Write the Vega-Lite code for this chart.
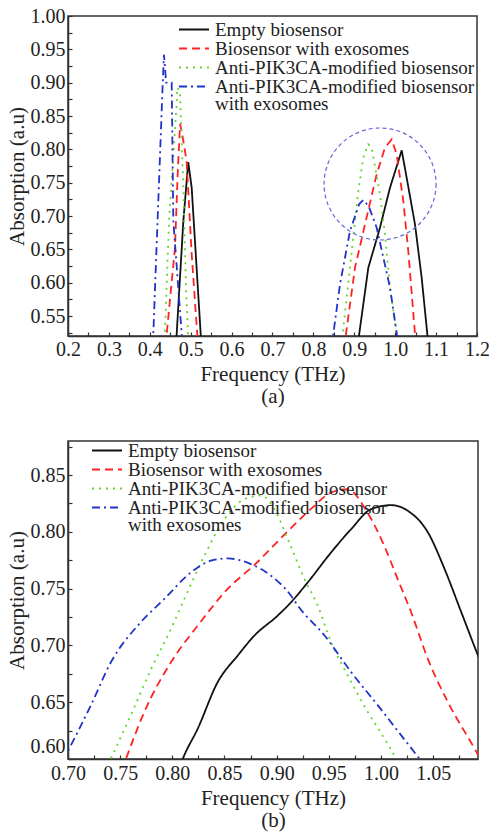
{
  "$schema": "https://vega.github.io/schema/vega-lite/v6.json",
  "padding": {"left": 5, "top": 5, "right": 5, "bottom": 5},
  "spacing": 28,
  "background": "white",
  "config": {
    "view": {"stroke": "#333333", "strokeWidth": 1.5},
    "axis": {
      "labelFont": "Liberation Serif", "labelFontSize": 20, "labelColor": "#222222",
      "titleFont": "Liberation Serif", "titleFontSize": 21, "titleFontWeight": "normal", "titleColor": "#222222",
      "domainColor": "#333333", "domainWidth": 1.5, "tickColor": "#333333", "tickWidth": 1.2,
      "grid": false, "labelOverlap": false, "labelFlush": false, "tickSize": -4, "labelPadding": 7
    },
    "legend": {
      "labelFont": "Liberation Serif", "labelFontSize": 19, "labelColor": "#222222",
      "symbolType": "stroke", "symbolSize": 900, "symbolStrokeWidth": 2, "labelLimit": 400,
      "labelOffset": 5, "rowPadding": -3.5, "padding": 0, "clipHeight": 17
    }
  },
  "datasets": {
    "a": [
      {"s": "Empty biosensor", "f": 0.2, "v": 0.3},
      {"s": "Empty biosensor", "f": 0.462, "v": 0.5},
      {"s": "Empty biosensor", "f": 0.4657, "v": 0.523},
      {"s": "Empty biosensor", "f": 0.482, "v": 0.6925},
      {"s": "Empty biosensor", "f": 0.494, "v": 0.781},
      {"s": "Empty biosensor", "f": 0.5024, "v": 0.7425},
      {"s": "Empty biosensor", "f": 0.5244, "v": 0.523},
      {"s": "Empty biosensor", "f": 0.526, "v": 0.5},
      {"s": "Empty biosensor", "f": 0.7, "v": 0.3},
      {"s": "Empty biosensor", "f": 0.909, "v": 0.5},
      {"s": "Empty biosensor", "f": 0.912, "v": 0.523},
      {"s": "Empty biosensor", "f": 0.9343, "v": 0.6225},
      {"s": "Empty biosensor", "f": 0.9628, "v": 0.6825},
      {"s": "Empty biosensor", "f": 0.9873, "v": 0.7425},
      {"s": "Empty biosensor", "f": 1.0159, "v": 0.7985},
      {"s": "Empty biosensor", "f": 1.028, "v": 0.7575},
      {"s": "Empty biosensor", "f": 1.0484, "v": 0.6875},
      {"s": "Empty biosensor", "f": 1.0647, "v": 0.6075},
      {"s": "Empty biosensor", "f": 1.0785, "v": 0.523},
      {"s": "Empty biosensor", "f": 1.081, "v": 0.5},
      {"s": "Empty biosensor", "f": 1.2, "v": 0.3},
      {"s": "Biosensor with exosomes", "f": 0.2, "v": 0.3},
      {"s": "Biosensor with exosomes", "f": 0.439, "v": 0.5},
      {"s": "Biosensor with exosomes", "f": 0.4413, "v": 0.523},
      {"s": "Biosensor with exosomes", "f": 0.4616, "v": 0.6525},
      {"s": "Biosensor with exosomes", "f": 0.468, "v": 0.76},
      {"s": "Biosensor with exosomes", "f": 0.474, "v": 0.838},
      {"s": "Biosensor with exosomes", "f": 0.48, "v": 0.82},
      {"s": "Biosensor with exosomes", "f": 0.49, "v": 0.7825},
      {"s": "Biosensor with exosomes", "f": 0.5024, "v": 0.643},
      {"s": "Biosensor with exosomes", "f": 0.516, "v": 0.523},
      {"s": "Biosensor with exosomes", "f": 0.518, "v": 0.5},
      {"s": "Biosensor with exosomes", "f": 0.7, "v": 0.3},
      {"s": "Biosensor with exosomes", "f": 0.877, "v": 0.5},
      {"s": "Biosensor with exosomes", "f": 0.8797, "v": 0.523},
      {"s": "Biosensor with exosomes", "f": 0.9017, "v": 0.6225},
      {"s": "Biosensor with exosomes", "f": 0.93, "v": 0.6975},
      {"s": "Biosensor with exosomes", "f": 0.9547, "v": 0.7625},
      {"s": "Biosensor with exosomes", "f": 0.975, "v": 0.8025},
      {"s": "Biosensor with exosomes", "f": 0.9914, "v": 0.815},
      {"s": "Biosensor with exosomes", "f": 1.0036, "v": 0.7925},
      {"s": "Biosensor with exosomes", "f": 1.0198, "v": 0.7225},
      {"s": "Biosensor with exosomes", "f": 1.032, "v": 0.6475},
      {"s": "Biosensor with exosomes", "f": 1.0484, "v": 0.523},
      {"s": "Biosensor with exosomes", "f": 1.051, "v": 0.5},
      {"s": "Biosensor with exosomes", "f": 1.2, "v": 0.3},
      {"s": "Anti-PIK3CA-modified biosensor", "f": 0.2, "v": 0.3},
      {"s": "Anti-PIK3CA-modified biosensor", "f": 0.435, "v": 0.5},
      {"s": "Anti-PIK3CA-modified biosensor", "f": 0.437, "v": 0.523},
      {"s": "Anti-PIK3CA-modified biosensor", "f": 0.447, "v": 0.6925},
      {"s": "Anti-PIK3CA-modified biosensor", "f": 0.4657, "v": 0.868},
      {"s": "Anti-PIK3CA-modified biosensor", "f": 0.467, "v": 0.8925},
      {"s": "Anti-PIK3CA-modified biosensor", "f": 0.4738, "v": 0.8875},
      {"s": "Anti-PIK3CA-modified biosensor", "f": 0.482, "v": 0.7425},
      {"s": "Anti-PIK3CA-modified biosensor", "f": 0.4885, "v": 0.5925},
      {"s": "Anti-PIK3CA-modified biosensor", "f": 0.4934, "v": 0.523},
      {"s": "Anti-PIK3CA-modified biosensor", "f": 0.495, "v": 0.5},
      {"s": "Anti-PIK3CA-modified biosensor", "f": 0.7, "v": 0.3},
      {"s": "Anti-PIK3CA-modified biosensor", "f": 0.869, "v": 0.5},
      {"s": "Anti-PIK3CA-modified biosensor", "f": 0.8716, "v": 0.523},
      {"s": "Anti-PIK3CA-modified biosensor", "f": 0.8895, "v": 0.6225},
      {"s": "Anti-PIK3CA-modified biosensor", "f": 0.9098, "v": 0.7375},
      {"s": "Anti-PIK3CA-modified biosensor", "f": 0.922, "v": 0.7875},
      {"s": "Anti-PIK3CA-modified biosensor", "f": 0.934, "v": 0.8075},
      {"s": "Anti-PIK3CA-modified biosensor", "f": 0.9425, "v": 0.8025},
      {"s": "Anti-PIK3CA-modified biosensor", "f": 0.9628, "v": 0.7325},
      {"s": "Anti-PIK3CA-modified biosensor", "f": 0.975, "v": 0.6725},
      {"s": "Anti-PIK3CA-modified biosensor", "f": 0.9873, "v": 0.5925},
      {"s": "Anti-PIK3CA-modified biosensor", "f": 1.0036, "v": 0.523},
      {"s": "Anti-PIK3CA-modified biosensor", "f": 1.006, "v": 0.5},
      {"s": "Anti-PIK3CA-modified biosensor", "f": 1.2, "v": 0.3},
      {"s": "Anti-PIK3CA-modified biosensor with exosomes", "f": 0.2, "v": 0.3},
      {"s": "Anti-PIK3CA-modified biosensor with exosomes", "f": 0.406, "v": 0.5},
      {"s": "Anti-PIK3CA-modified biosensor with exosomes", "f": 0.4086, "v": 0.523},
      {"s": "Anti-PIK3CA-modified biosensor with exosomes", "f": 0.4315, "v": 0.8975},
      {"s": "Anti-PIK3CA-modified biosensor with exosomes", "f": 0.4347, "v": 0.942},
      {"s": "Anti-PIK3CA-modified biosensor with exosomes", "f": 0.44, "v": 0.9},
      {"s": "Anti-PIK3CA-modified biosensor with exosomes", "f": 0.4535, "v": 0.9},
      {"s": "Anti-PIK3CA-modified biosensor with exosomes", "f": 0.4575, "v": 0.6925},
      {"s": "Anti-PIK3CA-modified biosensor with exosomes", "f": 0.478, "v": 0.523},
      {"s": "Anti-PIK3CA-modified biosensor with exosomes", "f": 0.48, "v": 0.5},
      {"s": "Anti-PIK3CA-modified biosensor with exosomes", "f": 0.7, "v": 0.3},
      {"s": "Anti-PIK3CA-modified biosensor with exosomes", "f": 0.846, "v": 0.5},
      {"s": "Anti-PIK3CA-modified biosensor with exosomes", "f": 0.8487, "v": 0.523},
      {"s": "Anti-PIK3CA-modified biosensor with exosomes", "f": 0.865, "v": 0.5975},
      {"s": "Anti-PIK3CA-modified biosensor with exosomes", "f": 0.8895, "v": 0.6775},
      {"s": "Anti-PIK3CA-modified biosensor with exosomes", "f": 0.912, "v": 0.718},
      {"s": "Anti-PIK3CA-modified biosensor with exosomes", "f": 0.922, "v": 0.724},
      {"s": "Anti-PIK3CA-modified biosensor with exosomes", "f": 0.935, "v": 0.715},
      {"s": "Anti-PIK3CA-modified biosensor with exosomes", "f": 0.9547, "v": 0.6825},
      {"s": "Anti-PIK3CA-modified biosensor with exosomes", "f": 0.9873, "v": 0.5925},
      {"s": "Anti-PIK3CA-modified biosensor with exosomes", "f": 1.004, "v": 0.523},
      {"s": "Anti-PIK3CA-modified biosensor with exosomes", "f": 1.007, "v": 0.5},
      {"s": "Anti-PIK3CA-modified biosensor with exosomes", "f": 1.2, "v": 0.3}
    ],
    "b": [
      {"s": "Empty biosensor", "f": 0.806, "v": 0.59},
      {"s": "Empty biosensor", "f": 0.81, "v": 0.6},
      {"s": "Empty biosensor", "f": 0.8243, "v": 0.6266},
      {"s": "Empty biosensor", "f": 0.8435, "v": 0.6677},
      {"s": "Empty biosensor", "f": 0.8627, "v": 0.6911},
      {"s": "Empty biosensor", "f": 0.8787, "v": 0.7087},
      {"s": "Empty biosensor", "f": 0.901, "v": 0.7263},
      {"s": "Empty biosensor", "f": 0.9138, "v": 0.738},
      {"s": "Empty biosensor", "f": 0.9298, "v": 0.7555},
      {"s": "Empty biosensor", "f": 0.9522, "v": 0.7819},
      {"s": "Empty biosensor", "f": 0.9714, "v": 0.8024},
      {"s": "Empty biosensor", "f": 0.9906, "v": 0.82},
      {"s": "Empty biosensor", "f": 1.0098, "v": 0.8235},
      {"s": "Empty biosensor", "f": 1.0258, "v": 0.8185},
      {"s": "Empty biosensor", "f": 1.045, "v": 0.7995},
      {"s": "Empty biosensor", "f": 1.061, "v": 0.7672},
      {"s": "Empty biosensor", "f": 1.077, "v": 0.7292},
      {"s": "Empty biosensor", "f": 1.093, "v": 0.6911},
      {"s": "Empty biosensor", "f": 1.1, "v": 0.675},
      {"s": "Biosensor with exosomes", "f": 0.7515, "v": 0.59},
      {"s": "Biosensor with exosomes", "f": 0.7555, "v": 0.6},
      {"s": "Biosensor with exosomes", "f": 0.7731, "v": 0.6413},
      {"s": "Biosensor with exosomes", "f": 0.7987, "v": 0.6852},
      {"s": "Biosensor with exosomes", "f": 0.8243, "v": 0.7174},
      {"s": "Biosensor with exosomes", "f": 0.853, "v": 0.7497},
      {"s": "Biosensor with exosomes", "f": 0.88, "v": 0.772},
      {"s": "Biosensor with exosomes", "f": 0.91, "v": 0.8},
      {"s": "Biosensor with exosomes", "f": 0.935, "v": 0.822},
      {"s": "Biosensor with exosomes", "f": 0.952, "v": 0.8346},
      {"s": "Biosensor with exosomes", "f": 0.968, "v": 0.8375},
      {"s": "Biosensor with exosomes", "f": 0.987, "v": 0.817},
      {"s": "Biosensor with exosomes", "f": 1.003, "v": 0.788},
      {"s": "Biosensor with exosomes", "f": 1.016, "v": 0.7584},
      {"s": "Biosensor with exosomes", "f": 1.029, "v": 0.729},
      {"s": "Biosensor with exosomes", "f": 1.045, "v": 0.688},
      {"s": "Biosensor with exosomes", "f": 1.0642, "v": 0.65},
      {"s": "Biosensor with exosomes", "f": 1.0898, "v": 0.609},
      {"s": "Biosensor with exosomes", "f": 1.1, "v": 0.592},
      {"s": "Anti-PIK3CA-modified biosensor", "f": 0.7385, "v": 0.595},
      {"s": "Anti-PIK3CA-modified biosensor", "f": 0.7427, "v": 0.6035},
      {"s": "Anti-PIK3CA-modified biosensor", "f": 0.7603, "v": 0.6387},
      {"s": "Anti-PIK3CA-modified biosensor", "f": 0.7795, "v": 0.679},
      {"s": "Anti-PIK3CA-modified biosensor", "f": 0.7987, "v": 0.7145},
      {"s": "Anti-PIK3CA-modified biosensor", "f": 0.8115, "v": 0.7409},
      {"s": "Anti-PIK3CA-modified biosensor", "f": 0.8307, "v": 0.779},
      {"s": "Anti-PIK3CA-modified biosensor", "f": 0.85, "v": 0.8112},
      {"s": "Anti-PIK3CA-modified biosensor", "f": 0.869, "v": 0.8287},
      {"s": "Anti-PIK3CA-modified biosensor", "f": 0.885, "v": 0.832},
      {"s": "Anti-PIK3CA-modified biosensor", "f": 0.8979, "v": 0.82},
      {"s": "Anti-PIK3CA-modified biosensor", "f": 0.9107, "v": 0.7936},
      {"s": "Anti-PIK3CA-modified biosensor", "f": 0.9267, "v": 0.7584},
      {"s": "Anti-PIK3CA-modified biosensor", "f": 0.9394, "v": 0.735},
      {"s": "Anti-PIK3CA-modified biosensor", "f": 0.9522, "v": 0.7028},
      {"s": "Anti-PIK3CA-modified biosensor", "f": 0.9682, "v": 0.6735},
      {"s": "Anti-PIK3CA-modified biosensor", "f": 0.9874, "v": 0.6413},
      {"s": "Anti-PIK3CA-modified biosensor", "f": 1.0035, "v": 0.6178},
      {"s": "Anti-PIK3CA-modified biosensor", "f": 1.0146, "v": 0.6},
      {"s": "Anti-PIK3CA-modified biosensor", "f": 1.02, "v": 0.59},
      {"s": "Anti-PIK3CA-modified biosensor with exosomes", "f": 0.695, "v": 0.598},
      {"s": "Anti-PIK3CA-modified biosensor with exosomes", "f": 0.7, "v": 0.607},
      {"s": "Anti-PIK3CA-modified biosensor with exosomes", "f": 0.7219, "v": 0.6472},
      {"s": "Anti-PIK3CA-modified biosensor with exosomes", "f": 0.7411, "v": 0.6852},
      {"s": "Anti-PIK3CA-modified biosensor with exosomes", "f": 0.7683, "v": 0.719},
      {"s": "Anti-PIK3CA-modified biosensor with exosomes", "f": 0.7923, "v": 0.7409},
      {"s": "Anti-PIK3CA-modified biosensor with exosomes", "f": 0.8178, "v": 0.7643},
      {"s": "Anti-PIK3CA-modified biosensor with exosomes", "f": 0.837, "v": 0.7746},
      {"s": "Anti-PIK3CA-modified biosensor with exosomes", "f": 0.853, "v": 0.7766},
      {"s": "Anti-PIK3CA-modified biosensor with exosomes", "f": 0.8754, "v": 0.7716},
      {"s": "Anti-PIK3CA-modified biosensor with exosomes", "f": 0.8946, "v": 0.7614},
      {"s": "Anti-PIK3CA-modified biosensor with exosomes", "f": 0.9138, "v": 0.7438},
      {"s": "Anti-PIK3CA-modified biosensor with exosomes", "f": 0.9203, "v": 0.735},
      {"s": "Anti-PIK3CA-modified biosensor with exosomes", "f": 0.9459, "v": 0.7087},
      {"s": "Anti-PIK3CA-modified biosensor with exosomes", "f": 0.9714, "v": 0.6765},
      {"s": "Anti-PIK3CA-modified biosensor with exosomes", "f": 0.997, "v": 0.6472},
      {"s": "Anti-PIK3CA-modified biosensor with exosomes", "f": 1.0194, "v": 0.6208},
      {"s": "Anti-PIK3CA-modified biosensor with exosomes", "f": 1.037, "v": 0.6},
      {"s": "Anti-PIK3CA-modified biosensor with exosomes", "f": 1.045, "v": 0.59}
    ],
    "circle": [{"f": 0.963, "v": 0.748}]
  },
  "resolve": {
    "scale": {"x": "independent", "y": "independent"},
    "legend": {"color": "independent", "strokeDash": "independent"}
  },
  "vconcat": [
    {
      "width": 409,
      "height": 320,
      "encoding": {
        "x": {
          "field": "f", "type": "quantitative",
          "scale": {"domain": [0.2, 1.2], "nice": false, "zero": false},
          "axis": {
            "title": ["Frequency (THz)", "(a)"], "titleLineHeight": 22, "titlePadding": 4,
            "values": [0.2, 0.25, 0.3, 0.35, 0.4, 0.45, 0.5, 0.55, 0.6, 0.65, 0.7, 0.75, 0.8, 0.85, 0.9, 0.95, 1.0, 1.05, 1.1, 1.15, 1.2],
            "labelExpr": "round(datum.value*100) % 10 == 0 ? format(datum.value, '.1f') : ''"
          }
        },
        "y": {
          "field": "v", "type": "quantitative",
          "scale": {"domain": [0.52, 1.0], "nice": false, "zero": false},
          "axis": {
            "title": "Absorption (a.u)", "titlePadding": 3,
            "values": [0.525, 0.55, 0.575, 0.6, 0.625, 0.65, 0.675, 0.7, 0.725, 0.75, 0.775, 0.8, 0.825, 0.85, 0.875, 0.9, 0.925, 0.95, 0.975, 1.0],
            "labelExpr": "round(datum.value*1000) % 50 == 0 ? format(datum.value, '.2f') : ''"
          }
        }
      },
      "layer": [
        {
          "data": {"name": "a"},
          "mark": {"type": "line", "clip": true, "strokeWidth": 1.8},
          "encoding": {
            "color": {
              "field": "s", "type": "nominal",
              "scale": {
                "domain": ["Empty biosensor", "Biosensor with exosomes", "Anti-PIK3CA-modified biosensor", "Anti-PIK3CA-modified biosensor with exosomes"],
                "range": ["#111111", "#ff2222", "#66d42a", "#1f33c8"]
              },
              "legend": {
                "title": null, "orient": "none", "legendX": 110, "legendY": 5,
                "labelExpr": "datum.label == 'Anti-PIK3CA-modified biosensor with exosomes' ? ['Anti-PIK3CA-modified biosensor', 'with exosomes'] : datum.label",
                "encode": {"labels": {"update": {"lineHeight": {"value": 17}}}}
              }
            },
            "strokeDash": {
              "field": "s", "type": "nominal",
              "scale": {
                "domain": ["Empty biosensor", "Biosensor with exosomes", "Anti-PIK3CA-modified biosensor", "Anti-PIK3CA-modified biosensor with exosomes"],
                "range": [[1, 0], [8, 5], [2, 5], [8, 4, 2, 4]]
              },
              "legend": {
                "title": null, "orient": "none", "legendX": 110, "legendY": 5,
                "labelExpr": "datum.label == 'Anti-PIK3CA-modified biosensor with exosomes' ? ['Anti-PIK3CA-modified biosensor', 'with exosomes'] : datum.label",
                "encode": {"labels": {"update": {"lineHeight": {"value": 17}}}}
              }
            }
          }
        },
        {
          "data": {"name": "circle"},
          "mark": {"type": "point", "shape": "circle", "size": 12544, "filled": false, "stroke": "#6464d8", "strokeWidth": 1.2, "strokeDash": [4, 3], "opacity": 1}
        }
      ]
    },
    {
      "width": 410,
      "height": 318,
      "data": {"name": "b"},
      "mark": {"type": "line", "clip": true, "strokeWidth": 1.8, "interpolate": "monotone"},
      "encoding": {
        "x": {
          "field": "f", "type": "quantitative",
          "scale": {"domain": [0.7, 1.093], "nice": false, "zero": false},
          "axis": {
            "title": ["Frequency (THz)", "(b)"], "titleLineHeight": 22, "titlePadding": 4, "labelPadding": 8,
            "values": [0.7, 0.725, 0.75, 0.775, 0.8, 0.825, 0.85, 0.875, 0.9, 0.925, 0.95, 0.975, 1.0, 1.025, 1.05, 1.075],
            "labelExpr": "round(datum.value*1000) % 50 == 0 ? format(datum.value, '.2f') : ''"
          }
        },
        "y": {
          "field": "v", "type": "quantitative",
          "scale": {"domain": [0.6, 0.88], "nice": false, "zero": false},
          "axis": {
            "title": "Absorption (a.u)", "titlePadding": 3, "labelFlush": true, "labelFlushOffset": -3,
            "values": [0.6, 0.625, 0.65, 0.675, 0.7, 0.725, 0.75, 0.775, 0.8, 0.825, 0.85, 0.875],
            "labelExpr": "round(datum.value*1000) % 50 == 0 ? format(datum.value, '.2f') : ''"
          }
        },
        "color": {
          "field": "s", "type": "nominal",
          "scale": {
            "domain": ["Empty biosensor", "Biosensor with exosomes", "Anti-PIK3CA-modified biosensor", "Anti-PIK3CA-modified biosensor with exosomes"],
            "range": ["#111111", "#ff2222", "#66d42a", "#1f33c8"]
          },
          "legend": {
            "title": null, "orient": "none", "legendX": 23, "legendY": 1,
            "labelExpr": "datum.label == 'Anti-PIK3CA-modified biosensor with exosomes' ? ['Anti-PIK3CA-modified biosensor', 'with exosomes'] : datum.label",
            "encode": {"labels": {"update": {"lineHeight": {"value": 17}}}}
          }
        },
        "strokeDash": {
          "field": "s", "type": "nominal",
          "scale": {
            "domain": ["Empty biosensor", "Biosensor with exosomes", "Anti-PIK3CA-modified biosensor", "Anti-PIK3CA-modified biosensor with exosomes"],
            "range": [[1, 0], [8, 5], [2, 5], [8, 4, 2, 4]]
          },
          "legend": {
            "title": null, "orient": "none", "legendX": 23, "legendY": 1,
            "labelExpr": "datum.label == 'Anti-PIK3CA-modified biosensor with exosomes' ? ['Anti-PIK3CA-modified biosensor', 'with exosomes'] : datum.label",
            "encode": {"labels": {"update": {"lineHeight": {"value": 17}}}}
          }
        }
      }
    }
  ]
}
